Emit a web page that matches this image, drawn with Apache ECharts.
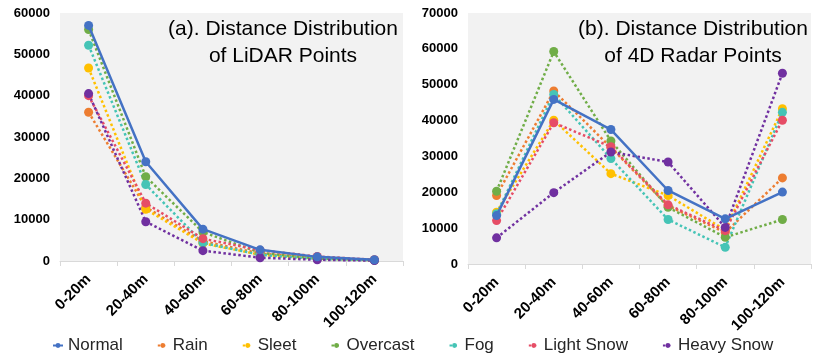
<!DOCTYPE html>
<html>
<head>
<meta charset="utf-8">
<script src="https://cdn.jsdelivr.net/npm/echarts@6/dist/echarts.min.js"></script>
<style>
  html, body { margin: 0; padding: 0; background: #fff; }
  #chart { width: 830px; height: 355px; }
</style>
</head>
<body>
<div id="chart"></div>
<script>
// 距离区间
const categories = ['0-20m', '20-40m', '40-60m', '60-80m', '80-100m', '100-120m'];
const weatherNames = ['Normal', 'Rain', 'Sleet', 'Overcast', 'Fog', 'Light Snow', 'Heavy Snow'];
const colors = ['#4472c4', '#ed7d31', '#ffc000', '#70ad47', '#45c4b6', '#e64d66', '#7030a0'];

// (a) LiDAR
const lidarNormal = [57000, 24000, 7700, 2700, 1000, 300];
const lidarRain = [36000, 13000, 4800, 1800, 700, 200];
const lidarSleet = [46700, 12500, 4300, 1500, 500, 200];
const lidarOvercast = [56000, 20400, 7000, 2000, 600, 200];
const lidarFog = [52200, 18500, 4400, 1500, 500, 200];
const lidarLightSnow = [40000, 14000, 5400, 2600, 1100, 300];
const lidarHeavySnow = [40500, 9500, 2500, 800, 300, 100];

// (b) 4D Radar
const radarNormal = [13500, 45900, 37500, 20500, 12600, 20050];
const radarRain = [19100, 48250, 32500, 16200, 8800, 24000];
const radarSleet = [14450, 40100, 25200, 19100, 9500, 43300];
const radarOvercast = [20300, 59250, 34300, 15800, 7450, 12400];
const radarFog = [14000, 47300, 29400, 12400, 4650, 42300];
const radarLightSnow = [12100, 39400, 32700, 16500, 9300, 40100];
const radarHeavySnow = [7300, 19900, 31250, 28450, 10200, 53200];

const lidarSets = [lidarNormal, lidarRain, lidarSleet, lidarOvercast, lidarFog, lidarLightSnow, lidarHeavySnow];
const radarSets = [radarNormal, radarRain, radarSleet, radarOvercast, radarFog, radarLightSnow, radarHeavySnow];

const FONT = '"Liberation Sans", Arial, sans-serif';

function makeSeries(sets, idx) {
  return sets.map((data, i) => ({
    name: weatherNames[i],
    type: 'line',
    xAxisIndex: idx,
    yAxisIndex: idx,
    data: data,
    symbol: 'circle',
    symbolSize: 9,
    color: colors[i],
    z: i === 0 ? 3 : 2,
    lineStyle: i === 0
      ? { width: 2.5, type: 'solid' }
      : { width: 2.5, type: [2.5, 2.5] },
    emphasis: { disabled: true },
  }));
}

function xAxis(gridIndex) {
  return {
    type: 'category',
    gridIndex,
    data: categories,
    axisLine: { lineStyle: { color: '#d9d9d9', width: 1 } },
    axisTick: { show: true, length: 5, lineStyle: { color: '#d9d9d9' } },
    axisLabel: {
      rotate: 45, margin: 16, interval: 0,
      fontFamily: FONT, fontSize: 15, fontWeight: 'bold', color: '#000',
    },
  };
}

function yAxis(gridIndex, max) {
  return {
    type: 'value',
    gridIndex,
    min: 0, max, interval: 10000,
    axisLine: { show: false },
    axisTick: { show: false },
    splitLine: { show: false },
    axisLabel: {
      margin: 10, fontFamily: FONT, fontSize: 13, fontWeight: 'bold', color: '#000',
      formatter: (v) => String(v),
    },
  };
}

const chart = echarts.init(document.getElementById('chart'), null, { renderer: 'canvas' });
chart.setOption({
  animation: false,
  backgroundColor: '#fff',
  title: [
    {
      text: '(a). Distance Distribution\nof LiDAR Points',
      left: 283, top: 16, textAlign: 'center', padding: 0,
      textStyle: { fontFamily: FONT, fontSize: 21, fontWeight: 'normal', color: '#000', lineHeight: 27 },
    },
    {
      text: '(b). Distance Distribution\nof 4D Radar Points',
      left: 693, top: 16, textAlign: 'center', padding: 0,
      textStyle: { fontFamily: FONT, fontSize: 21, fontWeight: 'normal', color: '#000', lineHeight: 27 },
    },
  ],
  legend: {
    data: weatherNames,
    left: 47, top: 332,
    itemWidth: 10, itemHeight: 6, itemGap: 34,
    textStyle: { fontFamily: FONT, fontSize: 17, color: '#262626' },
  },
  grid: [
    { left: 60, top: 13, width: 343, height: 248, show: true, backgroundColor: '#f2f2f2', borderWidth: 0 },
    { left: 468, top: 13, width: 343, height: 251, show: true, backgroundColor: '#f2f2f2', borderWidth: 0 },
  ],
  xAxis: [xAxis(0), xAxis(1)],
  yAxis: [yAxis(0, 60000), yAxis(1, 70000)],
  series: [...makeSeries(lidarSets, 0), ...makeSeries(radarSets, 1)],
});
</script>
</body>
</html>
